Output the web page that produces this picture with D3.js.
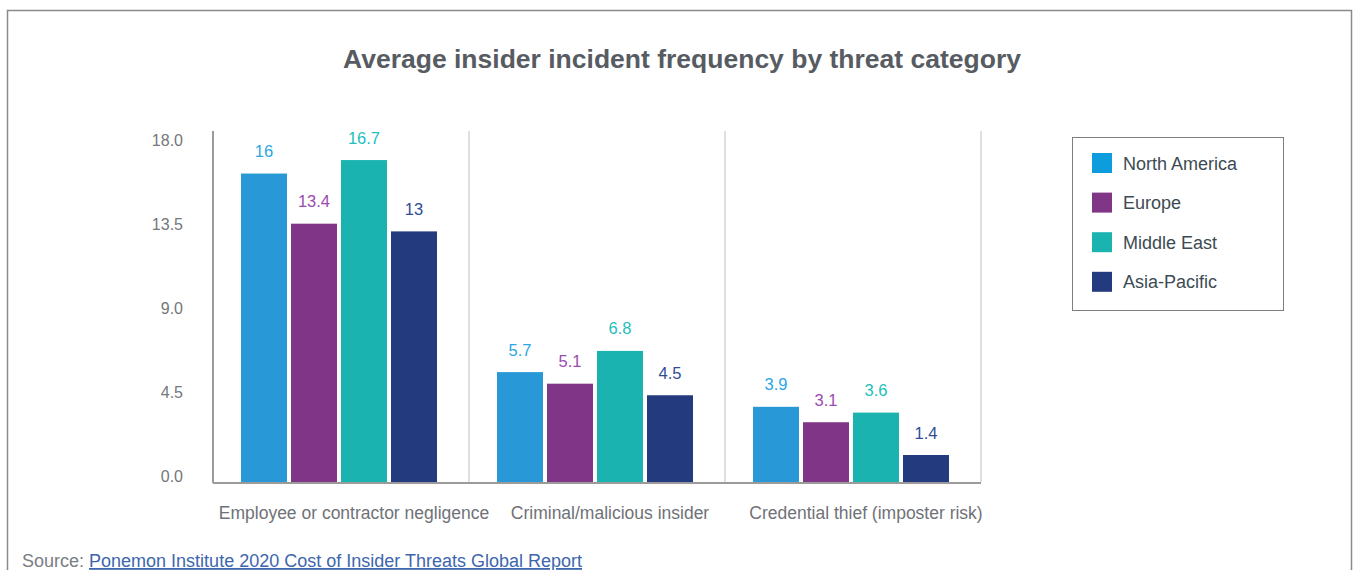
<!DOCTYPE html>
<html>
<head>
<meta charset="utf-8">
<script src="https://cdn.jsdelivr.net/npm/d3@7"></script>
<style>
  body { margin: 0; background: #fff; }
  svg text { font-family: "Liberation Sans", Arial, sans-serif; }
</style>
</head>
<body>
<div id="chart"></div>
<script>
// data
var categories = ["Employee or contractor negligence", "Criminal/malicious insider", "Credential thief (imposter risk)"];
var regions = ["North America", "Europe", "Middle East", "Asia-Pacific"];
var northAmerica = [16, 5.7, 3.9];
var europe = [13.4, 5.1, 3.1];
var middleEast = [16.7, 6.8, 3.6];
var asiaPacific = [13, 4.5, 1.4];
var yTicks = [0, 4.5, 9, 13.5, 18];

var barColors = ["#2898d6", "#813586", "#1ab3b0", "#233a7e"];
var labelColors = ["#2aa6e3", "#9a4bb0", "#22c0bc", "#2e4d95"];
var legendColors = ["#0d9ddd", "#813586", "#1ab3b0", "#233a7e"];

var series = [northAmerica, europe, middleEast, asiaPacific];
var rows = [];
categories.forEach(function(c, i) {
    regions.forEach(function(r, j) {
        rows.push({category: c, region: r, idx: j, value: series[j][i]});
    });
});

const W = 1356, H = 570;
const svg = d3.select("#chart").append("svg")
    .attr("width", W).attr("height", H);

// outer frame
svg.append("rect")
    .attr("x", 7.5).attr("y", 10.5)
    .attr("width", 1344).attr("height", 600)
    .attr("fill", "none").attr("stroke", "#8a8a8a").attr("stroke-width", 1.5);

// title
svg.append("text")
    .attr("x", 682).attr("y", 68)
    .attr("text-anchor", "middle")
    .attr("font-size", 26.5).attr("font-weight", "bold")
    .attr("fill", "#575b62")
    .text("Average insider incident frequency by threat category");

const plotLeft = 213, plotRight = 981, plotTop = 135, plotBottom = 482;

const x0 = d3.scaleBand().domain(categories).range([plotLeft, plotRight]);
const x1 = d3.scaleBand().domain(regions).range([28, 224]).paddingInner(0.08);
const y = d3.scaleLinear().domain([0, 18]).range([plotBottom, plotTop]);

// category separators
svg.append("g").selectAll("line")
    .data(categories)
    .join("line")
    .attr("x1", d => x0(d) + x0.bandwidth())
    .attr("x2", d => x0(d) + x0.bandwidth())
    .attr("y1", plotTop - 4).attr("y2", plotBottom)
    .attr("stroke", "#c3ccd3").attr("stroke-width", 1.2);

// y axis
const yAxis = svg.append("g")
    .attr("transform", `translate(${plotLeft},0)`)
    .call(d3.axisLeft(y).tickValues(yTicks).tickFormat(d3.format(".1f")).tickSize(0).tickPadding(30));
yAxis.select(".domain").remove();
yAxis.selectAll("text")
    .attr("font-size", 16).attr("fill", "#74777c")
    .attr("dy", (d, i) => (-0.3 + i * 2.75) + "px");
svg.append("line")
    .attr("x1", plotLeft).attr("x2", plotLeft)
    .attr("y1", plotTop - 4).attr("y2", plotBottom + 1)
    .attr("stroke", "#9b9b9b").attr("stroke-width", 2);

// bars
const groups = svg.append("g").selectAll("g")
    .data(rows)
    .join("g");

groups.append("rect")
    .attr("x", d => x0(d.category) + x1(d.region))
    .attr("y", d => y(d.value))
    .attr("width", x1.bandwidth())
    .attr("height", d => plotBottom - y(d.value))
    .attr("fill", d => barColors[d.idx]);

groups.append("text")
    .attr("x", d => x0(d.category) + x1(d.region) + x1.bandwidth() / 2)
    .attr("y", d => y(d.value) - 16.5)
    .attr("text-anchor", "middle")
    .attr("font-size", 16.5)
    .attr("fill", d => labelColors[d.idx])
    .text(d => d.value);

// x axis baseline
svg.append("line")
    .attr("x1", plotLeft).attr("x2", plotRight)
    .attr("y1", plotBottom + 1).attr("y2", plotBottom + 1)
    .attr("stroke", "#9b9b9b").attr("stroke-width", 2);

// category labels
const xAxis = svg.append("g")
    .attr("transform", `translate(13,${plotBottom})`)
    .call(d3.axisBottom(x0).tickSize(0).tickPadding(25));
xAxis.select(".domain").remove();
xAxis.selectAll("text")
    .attr("font-size", 17.5).attr("fill", "#6f7277");

// legend
const legend = svg.append("g").attr("transform", "translate(1072,137)");
legend.append("rect")
    .attr("x", 0.5).attr("y", 0.5)
    .attr("width", 211).attr("height", 173)
    .attr("fill", "#fff").attr("stroke", "#7d7d7d").attr("stroke-width", 1);
const items = legend.selectAll("g.item")
    .data(regions)
    .join("g").attr("class", "item")
    .attr("transform", (d, i) => `translate(20,${16 + i * 39.6})`);
items.append("rect")
    .attr("width", 20).attr("height", 20)
    .attr("fill", (d, i) => legendColors[i]);
items.append("text")
    .attr("x", 31).attr("y", 16.5)
    .attr("font-size", 18).attr("fill", "#3c4b53")
    .text(d => d);

// source
const src = svg.append("text")
    .attr("x", 22).attr("y", 567)
    .attr("font-size", 18).attr("fill", "#7a7d82");
src.append("tspan").text("Source: ");
src.append("tspan")
    .attr("fill", "#3d66ad")
    .attr("text-decoration", "underline")
    .text("Ponemon Institute 2020 Cost of Insider Threats Global Report");
</script>
</body>
</html>
